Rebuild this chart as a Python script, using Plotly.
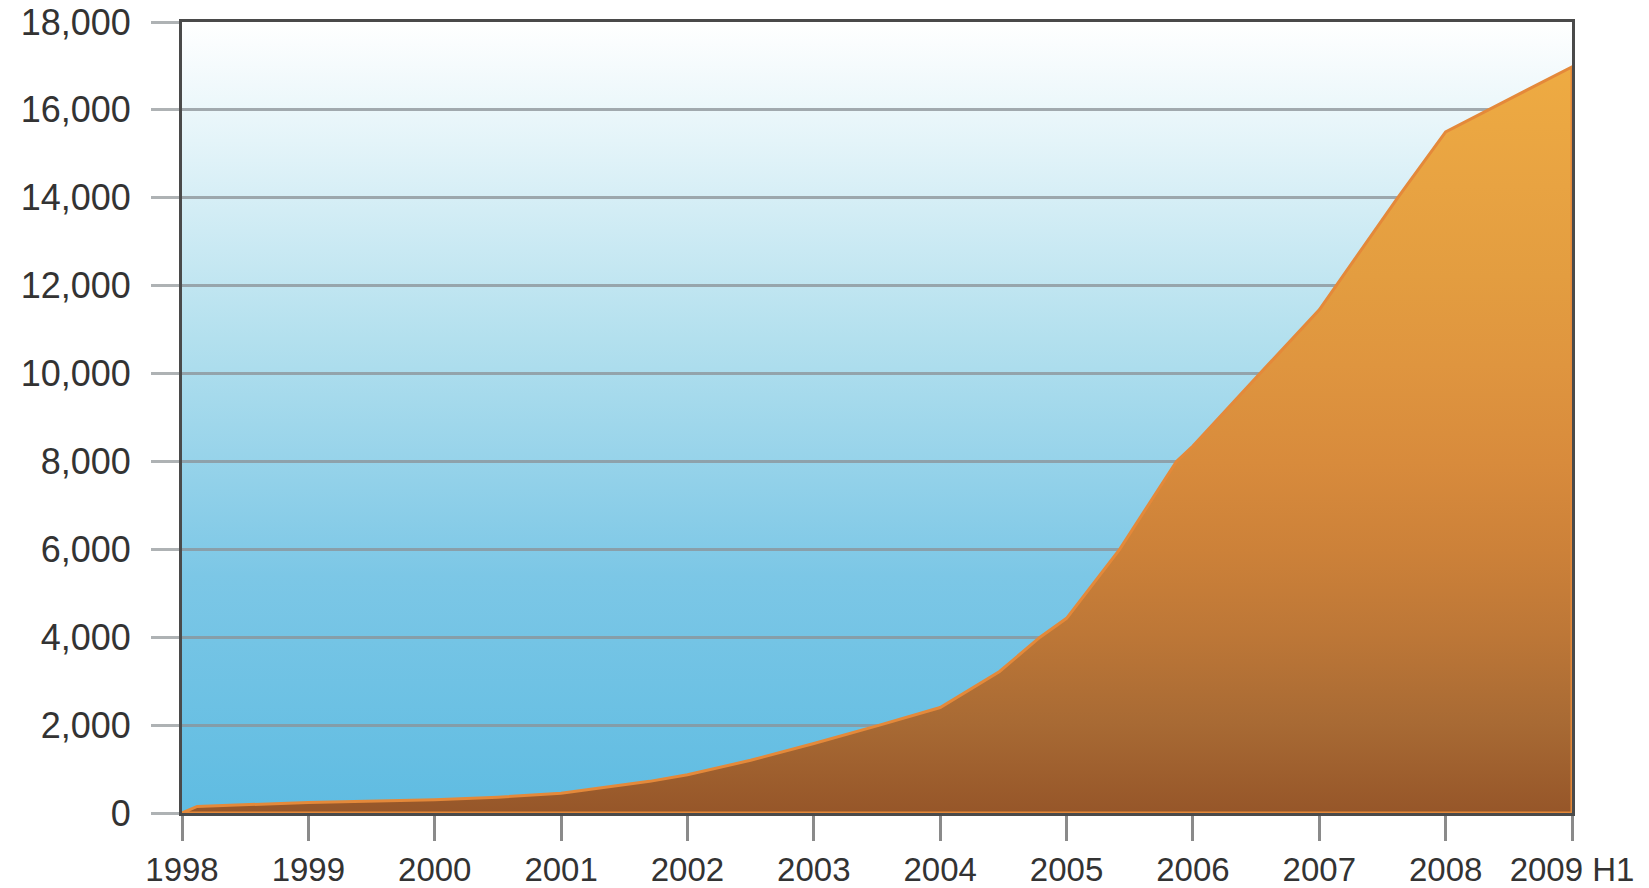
import base64
import plotly.graph_objects as go

# ---- data ----
years = [1998, 1998.12, 1999, 2000, 2000.5, 2001, 2001.7, 2002, 2002.5, 2003,
         2003.52, 2004, 2004.47, 2004.79, 2005, 2005.42, 2005.87, 2006,
         2006.53, 2007, 2007.62, 2008, 2009]
values = [0, 150, 240, 300, 360, 450, 720, 870, 1200, 1580,
          2000, 2400, 3220, 4000, 4430, 6000, 8000, 8350,
          10000, 11450, 14000, 15500, 16980]

x_tick_vals = [1998, 1999, 2000, 2001, 2002, 2003, 2004, 2005, 2006, 2007, 2008, 2009]
x_tick_text = ["1998", "1999", "2000", "2001", "2002", "2003", "2004", "2005",
               "2006", "2007", "2008", "2009 H1"]
y_tick_vals = [0, 2000, 4000, 6000, 8000, 10000, 12000, 14000, 16000, 18000]

y_max = y_tick_vals[-1]
x_min, x_max = x_tick_vals[0], x_tick_vals[-1]

FONT = "Liberation Sans, Arial, sans-serif"

# sky gradient used as plot background (drawn beneath the gridlines)
svg = (
    '<svg xmlns="http://www.w3.org/2000/svg" width="10" height="100" preserveAspectRatio="none">'
    '<defs><linearGradient id="g" x1="0" y1="0" x2="0" y2="1">'
    '<stop offset="0" stop-color="#ffffff"/>'
    '<stop offset="0.15" stop-color="#e4f4f9"/>'
    '<stop offset="0.4" stop-color="#b3e0ee"/>'
    '<stop offset="0.7" stop-color="#7cc7e6"/>'
    '<stop offset="1" stop-color="#5fbce2"/>'
    '</linearGradient></defs>'
    '<rect width="10" height="100" fill="url(#g)"/></svg>'
)
bg_uri = "data:image/svg+xml;base64," + base64.b64encode(svg.encode()).decode()

fig = go.Figure()

# orange area, closed polygon down to the baseline
area_x = years + [years[-1], years[0]]
area_y = values + [0, 0]
fig.add_trace(go.Scatter(
    x=area_x, y=area_y,
    mode="lines",
    line=dict(color="#e4893a", width=3),
    fill="toself",
    fillgradient=dict(type="vertical", start=0, stop=max(values),
                      colorscale=[[0, "#965629"], [0.12, "#a86a34"],
                                  [0.24, "#bd7737"], [0.35, "#cc8139"],
                                  [0.47, "#d88b3c"], [0.6, "#df953f"],
                                  [0.72, "#e39d40"], [0.84, "#e8a342"],
                                  [1, "#eeab42"]]),
    showlegend=False,
))

# page body has an 8px margin; figure sized so it ends at the window edge
fig.update_layout(
    width=1641, height=880,
    margin=dict(l=174, r=77, t=14, b=75),
    paper_bgcolor="white",
    plot_bgcolor="white",
    font=dict(family=FONT, color="#333333"),
    showlegend=False,
    images=[dict(source=bg_uri, xref="paper", yref="paper", x=0, y=1,
                 sizex=1, sizey=1, xanchor="left", yanchor="top",
                 sizing="stretch", layer="below")],
)

fig.update_xaxes(
    range=[x_min, x_max],
    tickmode="array", tickvals=x_tick_vals, ticktext=x_tick_text,
    ticks="outside", ticklen=25, tickwidth=2.5, tickcolor="#8a8a8a",
    tickfont=dict(size=33, family=FONT, color="#333333"),
    ticklabelstandoff=0,
    ticklabeloverflow="allow",
    automargin=False,
    showgrid=False, zeroline=False,
    showline=True, linecolor="#4a4a4a", linewidth=3, mirror=True,
)

fig.update_yaxes(
    range=[0, y_max],
    tickmode="array", tickvals=y_tick_vals, tickformat=",d",
    ticks="outside", ticklen=28, tickwidth=2.5, tickcolor="#aeb2b4",
    tickfont=dict(size=36, family=FONT, color="#333333"),
    ticklabelstandoff=13,
    ticklabeloverflow="allow",
    automargin=False,
    showgrid=True, gridcolor="rgba(140,148,152,0.78)", gridwidth=2.5,
    zeroline=False,
    showline=True, linecolor="#4a4a4a", linewidth=3, mirror=True,
)

fig.write_html("out.html")
